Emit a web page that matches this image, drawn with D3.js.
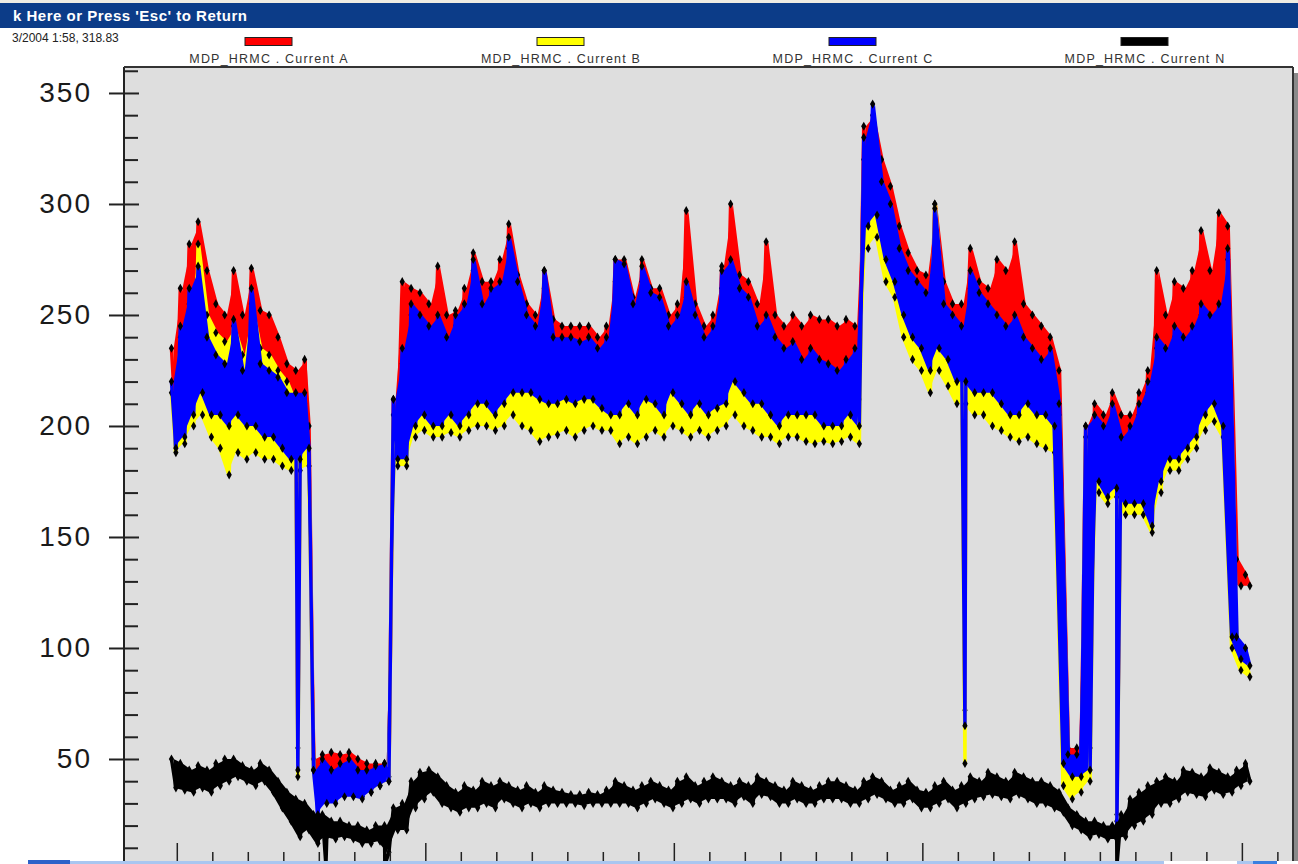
<!DOCTYPE html>
<html>
<head>
<meta charset="utf-8">
<script src="https://cdn.jsdelivr.net/npm/d3@7"></script>
<style>
body { margin: 0; background: #fff; }
svg { display: block; font-family: "Liberation Sans", Arial, sans-serif; }
</style>
</head>
<body>
<script>
var width = 1298;
var height = 864;
var plot = { left: 124, top: 67, right: 1293, bottom: 861 };

// --- data (hours from first x tick, one max/min pair per sample slot) ---
var seriesNames = ["MDP_HRMC . Current A", "MDP_HRMC . Current B", "MDP_HRMC . Current C", "MDP_HRMC . Current N"];
var seriesColors = ["#ff0000", "#ffff00", "#0000ff", "#000000"];
var startHour = -0.15;
var stepHour = 0.25;

var aHigh = [235,262,282,292,270,255,250,270,250,271,252,250,240,228,225,230,50,52,53,52,53,50,48,48,48,212,265,262,260,255,272,250,252,262,278,265,265,275,291,268,255,250,270,248,245,245,245,245,240,245,275,275,258,275,262,262,250,255,297,255,245,250,272,300,268,265,255,283,250,245,250,245,250,248,248,245,248,245,335,340,320,308,290,278,270,268,300,265,255,255,280,265,262,275,270,283,255,250,245,240,225,55,55,200,210,205,215,205,205,215,225,270,250,265,262,270,288,270,296,290,140,133];
var aLow = [200,210,222,230,220,218,212,218,212,215,208,208,203,198,198,200,32,35,35,38,38,36,38,40,42,195,200,212,215,212,212,215,212,215,220,220,215,220,225,225,225,222,220,220,222,220,222,222,218,215,215,220,215,222,220,215,225,220,215,220,215,218,220,230,225,220,220,215,212,215,215,215,215,212,212,212,215,212,300,305,285,275,260,250,245,235,245,240,230,230,225,225,225,220,215,215,220,215,215,210,58,48,48,55,182,178,180,175,175,175,168,185,195,195,200,205,215,220,210,130,128,128];

var bHigh = [215,240,255,282,250,242,238,245,232,255,235,232,225,220,210,210,45,48,45,45,48,44,44,46,47,205,228,250,245,240,245,235,245,250,270,250,255,260,280,260,245,240,262,235,232,232,230,232,228,232,265,265,248,265,252,250,238,243,258,243,235,240,262,268,255,250,238,243,232,228,230,225,228,225,222,220,225,228,320,335,305,295,275,265,258,255,300,250,245,240,262,255,250,245,240,243,235,230,225,228,205,48,48,195,200,195,205,190,195,205,215,235,230,240,235,240,250,245,250,275,100,95];
var bLow = [188,192,200,205,195,190,178,188,185,188,185,185,182,180,180,182,30,32,33,35,35,33,35,38,40,182,182,195,198,195,195,197,195,198,200,200,198,200,205,200,198,193,195,196,198,195,198,200,198,198,192,195,192,195,198,195,200,198,195,198,195,198,200,205,200,198,195,195,192,195,195,193,192,193,192,193,195,192,280,285,265,258,240,230,225,215,225,218,210,210,205,205,200,198,195,193,195,192,190,188,38,32,35,40,170,165,168,160,160,160,152,170,180,180,185,190,198,202,195,100,90,87];

var cHigh = [220,245,262,272,240,232,228,248,225,262,228,225,222,215,215,215,45,50,45,48,50,45,45,47,48,212,235,255,250,245,250,240,250,255,275,255,262,265,285,265,250,245,270,240,240,240,238,240,235,240,275,273,255,272,260,258,245,250,265,250,240,245,270,275,262,258,245,250,240,235,238,230,235,230,228,225,230,235,330,345,310,300,280,270,265,260,298,255,250,245,270,260,255,250,245,250,240,235,230,235,210,52,52,200,205,200,210,195,200,210,220,240,235,245,240,245,255,250,255,280,105,100];
var cLow = [190,195,205,215,205,205,200,205,200,200,195,195,190,185,185,190,25,30,30,33,33,32,35,38,40,185,185,200,205,200,200,205,200,205,210,210,205,210,215,215,215,212,210,210,212,210,212,212,208,205,205,210,205,212,210,205,215,210,205,210,205,208,210,220,215,210,210,205,200,205,205,205,205,200,200,200,205,200,290,295,275,265,250,240,235,225,235,230,220,220,215,215,215,210,205,205,210,205,205,200,48,42,42,45,175,168,172,165,165,165,155,175,185,185,190,195,205,210,200,105,95,92];

var nHigh = [50,48,45,47,45,48,50,50,47,45,48,45,40,35,32,30,25,25,22,22,20,20,18,20,20,28,30,40,44,45,42,38,35,38,36,40,38,40,38,36,38,35,38,36,35,34,34,35,34,36,40,38,36,38,40,38,36,40,42,38,40,42,40,38,40,38,42,40,38,36,40,38,36,38,40,40,38,36,40,42,40,36,38,40,36,35,38,40,36,38,42,40,44,42,40,44,42,40,40,38,35,28,25,22,22,20,20,25,32,35,38,40,42,40,45,44,42,46,44,42,45,48];
var nLow = [37,36,35,37,35,38,40,42,40,38,40,35,28,22,15,18,12,15,14,15,14,12,12,13,8,18,18,28,32,35,30,28,26,28,28,30,28,32,30,28,30,28,30,30,30,30,29,30,30,30,30,30,28,30,32,30,28,30,32,30,32,32,32,30,33,30,34,33,30,30,32,30,30,32,32,32,30,30,32,34,32,30,30,32,28,28,30,32,28,30,32,33,34,33,32,34,32,30,30,28,26,20,18,15,16,14,14,15,20,22,25,30,30,32,35,34,33,36,34,35,38,40];

// single-sample dips (hour, reading)
var dipHours = [3.41, 22.2, 26.48];
var aDips = [55, 72, 25];
var bDips = [42, 48, 22];
var cDips = [45, 65, 20];
var nDipHours = [4.2, 5.86, 26.48];
var nDips = [2, 2, 2];

var yMajorTicks = [50, 100, 150, 200, 250, 300, 350];
var yMinorTicks = d3.range(10, 361, 10);
var xTicks = d3.range(0, 32);
var xMajorTicks = [0, 7, 14, 21, 30];

var seriesData = [
    [aHigh, aLow, dipHours, aDips],
    [bHigh, bLow, dipHours, bDips],
    [cHigh, cLow, dipHours, cDips],
    [nHigh, nLow, nDipHours, nDips]
];

var svg = d3.select("body").append("svg")
    .attr("width", width)
    .attr("height", height);

// -- window chrome --
svg.append("rect").attr("x", 0).attr("y", 0).attr("width", width).attr("height", 3).attr("fill", "#efece2");
svg.append("rect").attr("x", 0).attr("y", 3).attr("width", width).attr("height", 25).attr("fill", "#0c3c88");
svg.append("text")
    .attr("x", 13).attr("y", 21)
    .attr("fill", "#fff")
    .attr("font-weight", "bold")
    .attr("font-size", 15)
    .attr("letter-spacing", 0.5)
    .text("k Here or Press 'Esc' to Return");
svg.append("text")
    .attr("x", 12).attr("y", 42)
    .attr("fill", "#222")
    .attr("font-size", 12)
    .text("3/2004 1:58, 318.83");

// -- legend --
var legend = svg.selectAll(".legend")
    .data(seriesNames)
    .enter()
    .append("g")
    .attr("class", "legend")
    .attr("transform", function(d, i) { return "translate(" + (269 + i * 292) + ",0)"; });
legend.append("rect")
    .attr("x", -24).attr("y", 37.5)
    .attr("width", 47).attr("height", 8)
    .attr("fill", function(d, i) { return seriesColors[i]; })
    .attr("stroke", "#222")
    .attr("stroke-width", 1);
legend.append("text")
    .attr("y", 63)
    .attr("text-anchor", "middle")
    .attr("font-size", 12.5)
    .attr("letter-spacing", 1.2)
    .attr("fill", "#333")
    .text(function(d) { return d; });

// -- plot frame --
svg.append("rect")
    .attr("x", plot.right + 1).attr("y", plot.top + 6)
    .attr("width", width - plot.right - 1).attr("height", height - plot.top)
    .attr("fill", "#8a8a8a");
svg.append("rect")
    .attr("x", plot.left).attr("y", plot.top)
    .attr("width", plot.right - plot.left).attr("height", height - plot.top)
    .attr("fill", "#dedede");

var xScale = d3.scaleLinear()
    .domain([-1.487, 31.44])
    .range([plot.left, plot.right]);
var yScale = d3.scaleLinear()
    .domain([4.05, 361.7])
    .range([plot.bottom, plot.top]);

svg.append("clipPath").attr("id", "clip")
    .append("rect")
    .attr("x", plot.left + 1).attr("y", plot.top + 1)
    .attr("width", plot.right - plot.left - 2).attr("height", plot.bottom - plot.top);

var hourAt = function(i) { return startHour + i * stepHour; };

var band = d3.area()
    .x(function(d) { return xScale(d[0]); })
    .y0(function(d) { return yScale(d[2]); })
    .y1(function(d) { return yScale(d[1]); });
var line = d3.line()
    .x(function(d) { return xScale(d[0]); })
    .y(function(d) { return yScale(d[1]); });
var dot = d3.symbol().type(d3.symbolDiamond).size(24);

var plotArea = svg.append("g").attr("clip-path", "url(#clip)");

seriesData.forEach(function(s, k) {
    var hi = s[0], lo = s[1], dh = s[2], dv = s[3];
    var slots = hi.map(function(v, i) { return [hourAt(i) + stepHour / 4, v, lo[i]]; });
    var pts = [];
    hi.forEach(function(v, i) {
        pts.push([hourAt(i), v]);
        pts.push([hourAt(i) + stepHour / 2, lo[i]]);
    });
    dh.forEach(function(h, j) { pts.push([h, dv[j]]); });
    pts.sort(function(p, q) { return p[0] - q[0]; });

    var g = plotArea.append("g");
    g.append("path")
        .attr("d", band(slots))
        .attr("fill", seriesColors[k]);
    g.append("path")
        .attr("d", line(pts))
        .attr("fill", "none")
        .attr("stroke", seriesColors[k])
        .attr("stroke-width", 3.5)
        .attr("stroke-linejoin", "round");
    g.selectAll(".mark")
        .data(pts)
        .enter()
        .append("path")
        .attr("class", "mark")
        .attr("d", dot)
        .attr("transform", function(d) { return "translate(" + xScale(d[0]) + "," + yScale(d[1]) + ")"; })
        .attr("fill", "#000");
});

// -- axes --
var yAxisOut = d3.axisLeft(yScale)
    .tickValues(yMajorTicks)
    .tickSize(15)
    .tickPadding(17)
    .tickFormat(d3.format("d"));
var yAxisIn = d3.axisRight(yScale)
    .tickValues(yMinorTicks)
    .tickSize(14)
    .tickFormat("");

var gy = svg.append("g")
    .attr("transform", "translate(" + plot.left + ",0)")
    .call(yAxisOut);
gy.select(".domain").remove();
gy.selectAll("line").attr("stroke", "#222").attr("stroke-width", 2);
gy.selectAll("text")
    .attr("font-size", 28)
    .attr("letter-spacing", 2)
    .attr("fill", "#1a1a1a")
    .attr("font-family", "'Liberation Sans', Arial, sans-serif");

var gyi = svg.append("g")
    .attr("transform", "translate(" + plot.left + ",0)")
    .call(yAxisIn);
gyi.select(".domain").remove();
gyi.selectAll("line").attr("stroke", "#222").attr("stroke-width", 2)
    .attr("x2", function(d) { return yMajorTicks.indexOf(d) >= 0 ? 15 : 14; });

var xAxis = d3.axisTop(xScale)
    .tickValues(xTicks)
    .tickSize(9)
    .tickFormat("");
var gx = svg.append("g")
    .attr("transform", "translate(0," + plot.bottom + ")")
    .call(xAxis);
gx.select(".domain").remove();
gx.selectAll("line").attr("stroke", "#222").attr("stroke-width", 1.5)
    .attr("y2", function(d) { return xMajorTicks.indexOf(d) >= 0 ? -18 : -9; });

// frame lines
svg.append("line").attr("x1", plot.left).attr("x2", plot.left).attr("y1", plot.top).attr("y2", height)
    .attr("stroke", "#222").attr("stroke-width", 2);
svg.append("line").attr("x1", plot.left).attr("x2", plot.right).attr("y1", plot.top).attr("y2", plot.top)
    .attr("stroke", "#333").attr("stroke-width", 2);
svg.append("line").attr("x1", plot.right).attr("x2", plot.right).attr("y1", plot.top).attr("y2", height)
    .attr("stroke", "#333").attr("stroke-width", 2);

// -- taskbar strip at the bottom of the screen --
svg.append("rect").attr("x", 0).attr("y", 861).attr("width", width).attr("height", 3).attr("fill", "#fff");
svg.append("rect").attr("x", 28).attr("y", 861).attr("width", 1136).attr("height", 3).attr("fill", "#a9c6f0");
svg.append("rect").attr("x", 28).attr("y", 860).attr("width", 42).attr("height", 4).attr("fill", "#2d62c9");
svg.append("rect").attr("x", 1237).attr("y", 861).attr("width", 16).attr("height", 3).attr("fill", "#a9c6f0");
svg.append("rect").attr("x", 1253).attr("y", 861).attr("width", 24).attr("height", 3).attr("fill", "#3a7fe0");
</script>
</body>
</html>
